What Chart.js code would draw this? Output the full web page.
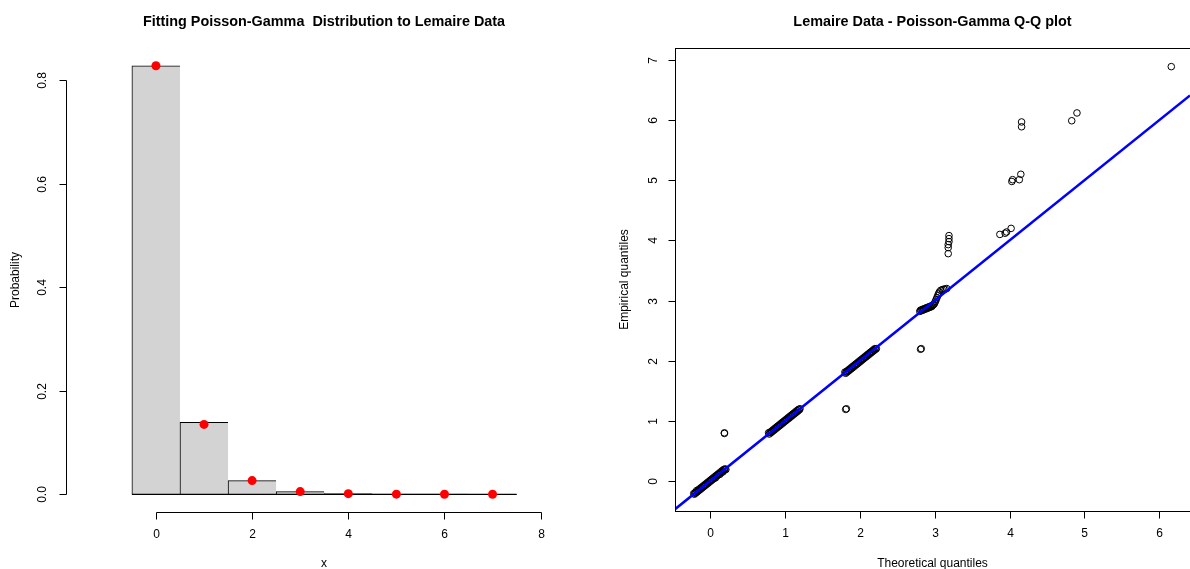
<!DOCTYPE html>
<html>
<head>
<meta charset="utf-8">
<script src="https://cdn.jsdelivr.net/npm/chart.js@4.4.1/dist/chart.umd.min.js"></script>
<style>
  html, body { margin: 0; padding: 0; background: #fff; overflow: hidden; width: 1190px; height: 569px; }
  canvas { position: absolute; top: 0; }
  #histChart { left: 0; }
  #qqChart { left: 595px; }
</style>
</head>
<body>
<canvas id="histChart" width="595" height="569"></canvas>
<canvas id="qqChart" width="600" height="569"></canvas>
<script>
// ---- data ----

// left panel: observed proportions (bars) and fitted Poisson-Gamma probabilities (red dots)
const claimCounts = [0, 1, 2, 3, 4, 5, 6, 7];
const observedProb = [0.828, 0.139, 0.0265, 0.0052, 0.0015, 0.0004, 0.0002, 0.0001];
const fittedProb = [0.828, 0.135, 0.0265, 0.0052, 0.0012, 0.0003, 0.0001, 0.00003];

// left panel axes
const histXTicks = [0, 2, 4, 6, 8];
const histXTickLabels = ['0', '2', '4', '6', '8'];
const histYTicks = [0, 0.2, 0.4, 0.6, 0.8];
const histYTickLabels = ['0.0', '0.2', '0.4', '0.6', '0.8'];

// right panel: Q-Q points, in groups (theoretical / empirical)
const clusterA_x = [-0.22, -0.21, -0.20, -0.19, -0.18, -0.17, -0.16, -0.15, -0.14, -0.13, -0.12, -0.11, -0.10, -0.09, -0.08, -0.07, -0.06, -0.05, -0.04, -0.03, -0.02, -0.01,
  0.00, 0.01, 0.02, 0.03, 0.04, 0.05, 0.06, 0.07, 0.08, 0.09, 0.10, 0.11, 0.12, 0.13, 0.14, 0.15, 0.16, 0.17, 0.18, 0.19, 0.20, 0.21];
const clusterA_y = [-0.21, -0.22, -0.19, -0.20, -0.16, -0.18, -0.15, -0.16, -0.13, -0.14, -0.11, -0.12, -0.09, -0.10, -0.07, -0.08, -0.05, -0.06, -0.03, -0.04, -0.01, -0.02,
  0.01, 0.00, 0.03, 0.02, 0.05, 0.04, 0.07, 0.05, 0.09, 0.08, 0.11, 0.10, 0.13, 0.11, 0.15, 0.14, 0.17, 0.15, 0.19, 0.18, 0.20, 0.19];

const clusterB_x = [0.78, 0.79, 0.80, 0.81, 0.82, 0.83, 0.84, 0.85, 0.86, 0.87, 0.88, 0.89, 0.90, 0.91, 0.92, 0.93, 0.94, 0.95, 0.96, 0.97, 0.98, 0.99,
  1.00, 1.01, 1.02, 1.03, 1.04, 1.05, 1.06, 1.07, 1.08, 1.09, 1.10, 1.11, 1.12, 1.13, 1.14, 1.15, 1.16, 1.17, 1.18, 1.19, 1.20];
const clusterB_y = [0.80, 0.78, 0.81, 0.80, 0.83, 0.82, 0.85, 0.84, 0.87, 0.86, 0.89, 0.88, 0.91, 0.90, 0.93, 0.92, 0.95, 0.94, 0.97, 0.96, 0.99, 0.98,
  1.01, 1.00, 1.03, 1.02, 1.05, 1.04, 1.07, 1.06, 1.09, 1.08, 1.11, 1.10, 1.13, 1.12, 1.15, 1.14, 1.17, 1.16, 1.19, 1.18, 1.20];

const clusterC_x = [1.80, 1.81, 1.82, 1.83, 1.84, 1.85, 1.86, 1.87, 1.88, 1.89, 1.90, 1.91, 1.92, 1.93, 1.94, 1.95, 1.96, 1.97, 1.98, 1.99,
  2.00, 2.01, 2.02, 2.03, 2.04, 2.05, 2.06, 2.07, 2.08, 2.09, 2.10, 2.11, 2.12, 2.13, 2.14, 2.15, 2.16, 2.17, 2.18, 2.19, 2.20, 2.21, 2.22];
const clusterC_y = [1.81, 1.79, 1.82, 1.81, 1.84, 1.83, 1.86, 1.85, 1.88, 1.87, 1.90, 1.89, 1.92, 1.91, 1.94, 1.93, 1.96, 1.95, 1.98, 1.97,
  2.00, 1.99, 2.02, 2.01, 2.04, 2.03, 2.06, 2.05, 2.08, 2.07, 2.10, 2.09, 2.12, 2.11, 2.14, 2.13, 2.16, 2.15, 2.18, 2.17, 2.20, 2.19, 2.20];

const clusterD_x = [2.80, 2.81, 2.82, 2.83, 2.84, 2.85, 2.86, 2.87, 2.88, 2.89, 2.90, 2.91, 2.92, 2.93, 2.94, 2.95, 2.96, 2.97, 2.98, 2.99,
  3.00, 3.01, 3.02, 3.03, 3.04, 3.05, 3.06, 3.08, 3.10, 3.12, 3.14, 3.16];
const clusterD_y = [2.82, 2.84, 2.83, 2.85, 2.84, 2.86, 2.85, 2.87, 2.86, 2.88, 2.87, 2.89, 2.88, 2.90, 2.89, 2.91, 2.90, 2.92, 2.93, 2.94,
  2.96, 2.99, 3.02, 3.05, 3.08, 3.11, 3.14, 3.17, 3.18, 3.19, 3.19, 3.20];

const outlier_x = [0.19, 0.19, 1.81, 1.82, 2.81, 2.82, 3.18, 3.18, 3.18, 3.19, 3.19, 3.19, 3.87, 3.94, 3.96, 4.02, 4.03, 4.04, 4.13, 4.15, 4.16, 4.16, 4.83, 4.90, 6.16];
const outlier_y = [0.79, 0.80, 1.19, 1.20, 2.19, 2.20, 3.78, 3.88, 3.93, 3.98, 4.03, 4.08, 4.10, 4.12, 4.14, 4.20, 4.98, 5.01, 5.01, 5.10, 5.89, 5.97, 5.99, 6.12, 6.89];

// reference line of the Q-Q plot
const qqLineIntercept = 0;
const qqLineSlope = 1;

// right panel axes
const qqXTicks = [0, 1, 2, 3, 4, 5, 6];
const qqXTickLabels = ['0', '1', '2', '3', '4', '5', '6'];
const qqYTicks = [0, 1, 2, 3, 4, 5, 6, 7];
const qqYTickLabels = ['0', '1', '2', '3', '4', '5', '6', '7'];

// ---- drawing ----
const FONT = '"Liberation Sans", Arial, Helvetica, sans-serif';

// draws base-R style axes (line only between first and last tick), titles and the optional box
const rAxesPlugin = {
  id: 'rAxes',
  afterDatasetDraw(chart, args, o) {
    // bottom edge of the histogram bars
    if (!o.barBaseline || chart.data.datasets[args.index].type !== 'bar') return;
    const { ctx, scales: { x, y } } = chart;
    const base = y.getPixelForValue(0);
    ctx.save();
    ctx.strokeStyle = '#000';
    ctx.lineWidth = 1.3;
    ctx.beginPath();
    ctx.moveTo(x.getPixelForValue(claimCounts[0] - 0.5), base);
    ctx.lineTo(x.getPixelForValue(claimCounts[claimCounts.length - 1] + 0.5), base);
    ctx.stroke();
    ctx.restore();
  },
  afterDraw(chart, args, o) {
    const { ctx, chartArea: a, scales: { x, y } } = chart;
    ctx.save();
    ctx.strokeStyle = '#000';
    ctx.fillStyle = '#000';
    ctx.lineWidth = 1;

    // x axis
    const by = Math.round(a.bottom) + 0.5;
    const xp = o.xTicks.map(v => Math.round(x.getPixelForValue(v)) + 0.5);
    ctx.beginPath();
    ctx.moveTo(xp[0], by);
    ctx.lineTo(xp[xp.length - 1], by);
    xp.forEach(p => { ctx.moveTo(p, by); ctx.lineTo(p, by + o.tickLen); });
    ctx.stroke();

    // y axis
    const lx = Math.round(a.left) + 0.5;
    const yp = o.yTicks.map(v => Math.round(y.getPixelForValue(v)) + 0.5);
    ctx.beginPath();
    ctx.moveTo(lx, yp[0]);
    ctx.lineTo(lx, yp[yp.length - 1]);
    yp.forEach(p => { ctx.moveTo(lx, p); ctx.lineTo(lx - o.tickLen, p); });
    ctx.stroke();

    if (o.box) {
      ctx.strokeRect(lx, Math.round(a.top) + 0.5, Math.round(a.right) - Math.round(a.left), Math.round(a.bottom) - Math.round(a.top));
    }

    // tick labels
    ctx.font = '12px ' + FONT;
    ctx.textAlign = 'center';
    ctx.textBaseline = 'middle';
    o.xTickLabels.forEach((t, i) => ctx.fillText(t, xp[i], by + o.labelGap));
    o.yTickLabels.forEach((t, i) => {
      ctx.save();
      ctx.translate(lx - o.yLabelGap, yp[i]);
      ctx.rotate(-Math.PI / 2);
      ctx.fillText(t, 0, 0);
      ctx.restore();
    });

    // axis titles
    const cx = (a.left + a.right) / 2;
    const cy = (a.top + a.bottom) / 2;
    ctx.fillText(o.xTitle, cx, by + o.titleGap);
    ctx.save();
    ctx.translate(lx - o.yTitleGap, cy);
    ctx.rotate(-Math.PI / 2);
    ctx.fillText(o.yTitle, 0, 0);
    ctx.restore();

    // main title
    ctx.font = 'bold 14.4px ' + FONT;
    ctx.textBaseline = 'alphabetic';
    ctx.fillText(o.title, cx, o.titleY);
    ctx.restore();
  }
};

// histogram with fitted probabilities
function plotHistogram() {
  const ctx = document.getElementById('histChart').getContext('2d');
  const lastBar = claimCounts.length - 1;

  new Chart(ctx, {
    type: 'bar',
    data: {
      datasets: [{
        type: 'scatter',
        data: claimCounts.map((c, i) => ({ x: c, y: fittedProb[i] })),
        backgroundColor: '#FF0000',
        borderColor: '#FF0000',
        pointRadius: 4.5,
        pointBorderWidth: 0,
        order: 0
      }, {
        type: 'bar',
        data: claimCounts.map((c, i) => ({ x: c, y: observedProb[i] })),
        backgroundColor: '#D3D3D3',
        borderColor: '#000',
        borderWidth: c => ({ left: 1, top: 1, right: c.dataIndex === lastBar ? 1 : 0, bottom: 0 }),
        borderSkipped: false,
        barPercentage: 1,
        categoryPercentage: 1,
        grouped: false,
        order: 1
      }]
    },
    options: {
      responsive: false,
      animation: false,
      events: [],
      layout: { padding: { left: 66, right: 13, top: 48, bottom: 57 } },
      scales: {
        x: { type: 'linear', offset: false, min: -1.87, max: 8.86, display: false },
        y: { type: 'linear', min: -0.0342, max: 0.8624, display: false }
      },
      plugins: {
        legend: { display: false },
        tooltip: { enabled: false },
        rAxes: {
          xTicks: histXTicks, xTickLabels: histXTickLabels,
          yTicks: histYTicks, yTickLabels: histYTickLabels,
          xTitle: 'x', yTitle: 'Probability',
          title: 'Fitting Poisson-Gamma  Distribution to Lemaire Data',
          titleY: 26, tickLen: 7, labelGap: 22, yLabelGap: 24, titleGap: 51, yTitleGap: 51,
          box: false, barBaseline: true
        }
      }
    },
    plugins: [rAxesPlugin]
  });
}

// Q-Q plot
function plotQQ() {
  const ctx = document.getElementById('qqChart').getContext('2d');
  const xMin = -0.47, xMax = 6.41;
  const qqX = [].concat(clusterA_x, clusterB_x, clusterC_x, clusterD_x, outlier_x);
  const qqY = [].concat(clusterA_y, clusterB_y, clusterC_y, clusterD_y, outlier_y);

  new Chart(ctx, {
    type: 'scatter',
    data: {
      datasets: [{
        type: 'line',
        data: [xMin, xMax].map(v => ({ x: v, y: qqLineIntercept + qqLineSlope * v })),
        borderColor: '#0000FF',
        borderWidth: 2.5,
        pointRadius: 0,
        order: 0
      }, {
        data: qqX.map((t, i) => ({ x: t, y: qqY[i] })),
        pointStyle: 'circle',
        pointRadius: 3.3,
        pointBorderWidth: 1,
        borderColor: '#000',
        backgroundColor: 'rgba(0,0,0,0)',
        order: 1
      }]
    },
    options: {
      responsive: false,
      animation: false,
      events: [],
      layout: { padding: { left: 80, right: 1, top: 48, bottom: 58 } },
      scales: {
        x: { type: 'linear', min: xMin, max: xMax, display: false },
        y: { type: 'linear', min: -0.5, max: 7.2, display: false }
      },
      plugins: {
        legend: { display: false },
        tooltip: { enabled: false },
        rAxes: {
          xTicks: qqXTicks, xTickLabels: qqXTickLabels,
          yTicks: qqYTicks, yTickLabels: qqYTickLabels,
          xTitle: 'Theoretical quantiles', yTitle: 'Empirical quantiles',
          title: 'Lemaire Data - Poisson-Gamma Q-Q plot',
          titleY: 26, tickLen: 7, labelGap: 22, yLabelGap: 22, titleGap: 52, yTitleGap: 51,
          box: true, barBaseline: false
        }
      }
    },
    plugins: [rAxesPlugin]
  });
}

plotHistogram();
plotQQ();
</script>
</body>
</html>
